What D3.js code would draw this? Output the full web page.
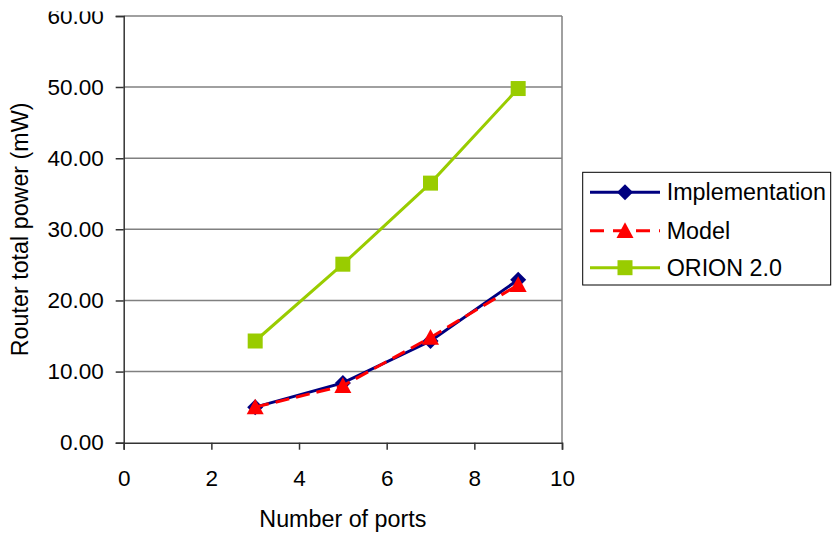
<!DOCTYPE html>
<html><head><meta charset="utf-8">
<script src="https://cdn.jsdelivr.net/npm/d3@7"></script>
<style>body{margin:0;background:#fff}svg{display:block}text{font-family:"Liberation Sans",Arial,sans-serif;fill:#000}</style>
</head><body><svg id="c" width="839" height="533"></svg>
<script>
const ports = [3, 5, 7, 9];
const implementation = [5.0, 8.4, 14.3, 22.9];
const model = [5.0, 8.0, 14.8, 22.2];
const orion = [14.3, 25.1, 36.5, 49.8];
const xTicks = [0, 2, 4, 6, 8, 10];
const yTicks = [0, 10, 20, 30, 40, 50, 60];
const seriesNames = ["Implementation", "Model", "ORION 2.0"];

const svg = d3.select("#c");
const L = 123.7, R = 562, T = 16, B = 442.7;
const x = d3.scaleLinear().domain([0, 10]).range([L, R]);
const y = d3.scaleLinear().domain([0, 60]).range([B, T]);

// clip: the original figure is cropped just above the top label
svg.append("defs").append("clipPath").attr("id", "crop")
  .append("rect").attr("x", 0).attr("y", 11.5).attr("width", 839).attr("height", 533);
const root = svg.append("g").attr("clip-path", "url(#crop)");

// gridlines
root.append("g").selectAll("line").data(yTicks.filter(d => d > 0)).join("line")
  .attr("x1", L).attr("x2", R).attr("y1", d => y(d)).attr("y2", d => y(d))
  .attr("stroke", "#808080").attr("stroke-width", 1.5);
// right border
root.append("line").attr("x1", R).attr("x2", R).attr("y1", T).attr("y2", B)
  .attr("stroke", "#808080").attr("stroke-width", 1.5);

// axes
const yAxis = d3.axisLeft(y).tickValues(yTicks).tickFormat(d3.format(".2f")).tickSize(8).tickPadding(12);
const gy = root.append("g").attr("transform", `translate(${L},0)`).call(yAxis);
gy.select(".domain").attr("stroke", "#333").attr("stroke-width", 1.5);
gy.selectAll(".tick line").attr("stroke", "#333").attr("stroke-width", 1.5);
gy.selectAll("text").style("font-size", "22.5px").attr("font-family", null).attr("fill", "#000");

const xAxis = d3.axisBottom(x).tickValues(xTicks).tickFormat(d3.format("d")).tickSize(7).tickPadding(20);
const gx = root.append("g").attr("transform", `translate(0,${B})`).call(xAxis);
gx.select(".domain").attr("stroke", "#333").attr("stroke-width", 1.5);
gx.selectAll(".tick line").attr("stroke", "#333").attr("stroke-width", 1.5);
gx.selectAll("text").style("font-size", "22.5px").attr("font-family", null).attr("fill", "#000");

// axis titles
root.append("text").attr("x", (L + R) / 2).attr("y", 527).attr("text-anchor", "middle")
  .style("font-size", "23.3px").text("Number of ports");
root.append("text").attr("transform", `translate(28,${(T + B) / 2}) rotate(-90)`).attr("text-anchor", "middle")
  .style("font-size", "23.3px").text("Router total power (mW)");

const line = d3.line().x((d, i) => x(ports[i])).y(d => y(d));
const colors = ["#000080", "#FF0000", "#99CC00"];
const dashes = [null, "14,7", null];
const datasets = [implementation, model, orion];

function marker(g, k, cx, cy) {
  if (k === 0) {
    const s = 8;
    g.append("path").attr("d", `M${cx},${cy - s}L${cx + s},${cy}L${cx},${cy + s}L${cx - s},${cy}Z`).attr("fill", colors[k]);
  } else if (k === 1) {
    const s = 8.5;
    g.append("path").attr("d", `M${cx},${cy - s}L${cx + s},${cy + s * 0.85}L${cx - s},${cy + s * 0.85}Z`).attr("fill", colors[k]);
  } else {
    const s = 7.5;
    g.append("rect").attr("x", cx - s).attr("y", cy - s).attr("width", 2 * s).attr("height", 2 * s).attr("fill", colors[k]);
  }
}

[2, 0, 1].forEach(k => {
  const g = root.append("g");
  g.append("path").attr("d", line(datasets[k])).attr("fill", "none")
    .attr("stroke", colors[k]).attr("stroke-width", 3).attr("stroke-dasharray", dashes[k]);
  datasets[k].forEach((v, i) => marker(g, k, x(ports[i]), y(v)));
});

// legend
const lg = root.append("g");
lg.append("rect").attr("x", 582.7).attr("y", 172.3).attr("width", 248).attr("height", 112.7)
  .attr("fill", "#fff").attr("stroke", "#000").attr("stroke-width", 1);
const ly = [192.3, 230.7, 267.7];
seriesNames.forEach((name, k) => {
  lg.append("line").attr("x1", 590).attr("x2", 660).attr("y1", ly[k]).attr("y2", ly[k])
    .attr("stroke", colors[k]).attr("stroke-width", 3).attr("stroke-dasharray", dashes[k] ? "14,9" : null);
  marker(lg, k, 625, ly[k]);
  lg.append("text").attr("x", 666.7).attr("y", ly[k] + 8).style("font-size", "23.3px").text(name);
});
</script></body></html>
